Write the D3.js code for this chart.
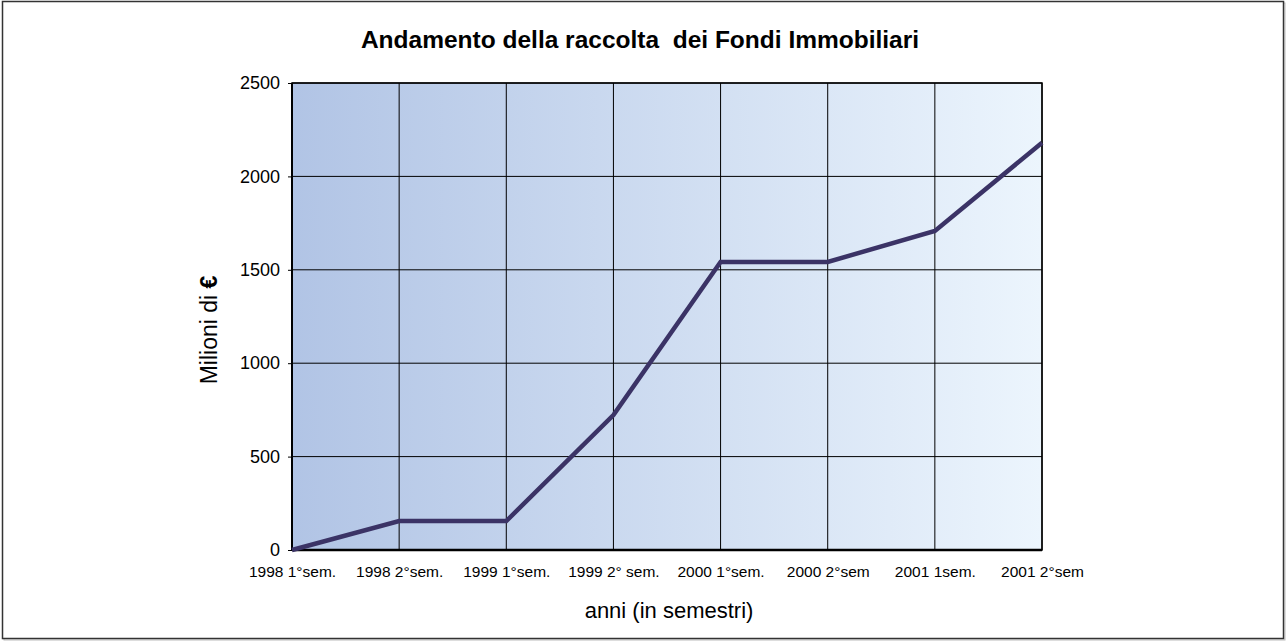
<!DOCTYPE html>
<html>
<head>
<meta charset="utf-8">
<script src="https://cdn.jsdelivr.net/npm/d3@7"></script>
<style>
  body { margin: 0; background: #fff; }
  svg { display: block; font-family: Arial, "Liberation Sans", sans-serif; }
</style>
</head>
<body>
<svg id="svg" width="1288" height="643"></svg>
<script>
const semestri = ['1998 1°sem.', '1998 2°sem.', '1999 1°sem.', '1999 2° sem.',
                  '2000 1°sem.', '2000 2°sem', '2001 1sem.', '2001 2°sem'];
const raccolta = [0, 155, 155, 722, 1542, 1542, 1708, 2180];
const yTicks = [0, 500, 1000, 1500, 2000, 2500];

const svg = d3.select('#svg');
const plot = {left: 292, top: 83, right: 1042, bottom: 550};
const w = plot.right - plot.left, h = plot.bottom - plot.top;
const font = 'Arial, "Liberation Sans", sans-serif';

// cornice esterna
svg.append('rect')
    .attr('x', 4).attr('y', 3).attr('width', 1281).attr('height', 637)
    .attr('fill', 'none').attr('stroke', '#bbb').attr('stroke-width', 1);
svg.append('rect')
    .attr('x', 2.5).attr('y', 1.5).attr('width', 1281).attr('height', 637)
    .attr('fill', '#fff').attr('stroke', '#333').attr('stroke-width', 1.5);

const grad = svg.append('defs').append('linearGradient')
    .attr('id', 'bg').attr('x1', 0).attr('x2', 1).attr('y1', 0).attr('y2', 0);
grad.append('stop').attr('offset', '0%').attr('stop-color', '#b1c4e5');
grad.append('stop').attr('offset', '100%').attr('stop-color', '#ecf5fd');

const x = d3.scalePoint().domain(semestri).range([0, w]);
const y = d3.scaleLinear().domain([0, 2500]).range([h, 0]);

const g = svg.append('g').attr('transform', 'translate(' + plot.left + ',' + plot.top + ')');

g.append('rect').attr('width', w).attr('height', h).attr('fill', 'url(#bg)');

// griglia
g.selectAll('.hgrid').data(yTicks).enter().append('line')
    .attr('x1', 0).attr('x2', w)
    .attr('y1', d => y(d)).attr('y2', d => y(d))
    .attr('stroke', '#000').attr('stroke-width', 1);
g.selectAll('.vgrid').data(semestri).enter().append('line')
    .attr('x1', d => x(d)).attr('x2', d => x(d))
    .attr('y1', 0).attr('y2', h)
    .attr('stroke', '#000').attr('stroke-width', 1);

g.append('rect').attr('width', w).attr('height', h)
    .attr('fill', 'none').attr('stroke', '#000').attr('stroke-width', 1.5);
g.append('line').attr('x1', 0).attr('x2', w).attr('y1', h).attr('y2', h)
    .attr('stroke', '#000').attr('stroke-width', 2.5);
g.append('line').attr('x1', 0).attr('x2', 0).attr('y1', 0).attr('y2', h)
    .attr('stroke', '#000').attr('stroke-width', 2);

// asse y
const yAxis = g.append('g')
    .call(d3.axisLeft(y).tickValues(yTicks).tickFormat(d3.format('d')).tickSize(4).tickPadding(8));
yAxis.select('.domain').remove();
yAxis.selectAll('line').attr('stroke', '#000');
yAxis.selectAll('text').attr('font-size', 18).attr('fill', '#000').attr('font-family', font);

// asse x
const xAxis = g.append('g').attr('transform', 'translate(0,' + h + ')')
    .call(d3.axisBottom(x).tickSize(0).tickPadding(16));
xAxis.select('.domain').remove();
xAxis.selectAll('text').attr('font-size', 15.5).attr('fill', '#000').attr('font-family', font);

const line = d3.line().x((d, i) => x(semestri[i])).y(d => y(d));
g.append('path').datum(raccolta)
    .attr('d', line)
    .attr('fill', 'none')
    .attr('stroke', '#3b3366')
    .attr('stroke-width', 4.5)
    .attr('stroke-linejoin', 'miter');

// titoli
svg.append('text')
    .attr('x', 640).attr('y', 48)
    .attr('text-anchor', 'middle')
    .attr('font-size', 24.5).attr('font-weight', 'bold')
    .attr('xml:space', 'preserve')
    .text('Andamento della raccolta  dei Fondi Immobiliari');

svg.append('text')
    .attr('x', 669).attr('y', 618)
    .attr('text-anchor', 'middle')
    .attr('font-size', 22)
    .text('anni (in semestri)');

const yt = svg.append('text')
    .attr('transform', 'translate(217,330) rotate(-90)')
    .attr('text-anchor', 'middle')
    .attr('font-size', 23);
yt.append('tspan').text('Milioni di ');
yt.append('tspan').attr('font-weight', 'bold').text('€');
</script>
</body>
</html>
